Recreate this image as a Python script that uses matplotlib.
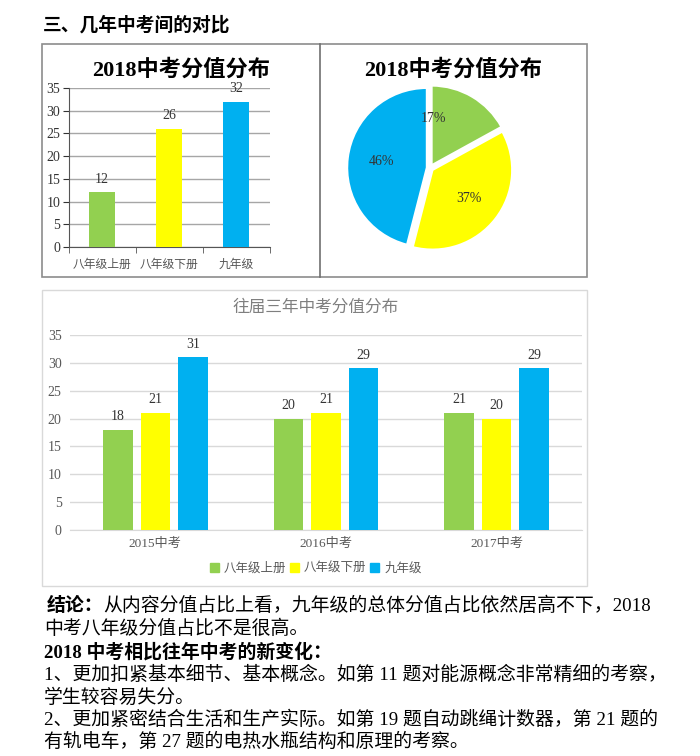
import numpy as np
import matplotlib
matplotlib.use("Agg")
import matplotlib.pyplot as plt
from matplotlib.patches import Rectangle, Patch

plt.rcParams['font.family'] = ['Noto Sans CJK SC', 'DejaVu Sans']
SERIF = ['Liberation Serif', 'Noto Sans CJK SC']

# data
grades = ['八年级上册', '八年级下册', '九年级']
scores_2018 = [12, 26, 32]
pie_pct = [17, 37, 46]
years = ['2015中考', '2016中考', '2017中考']
past = {
    '八年级上册': [18, 20, 21],
    '八年级下册': [21, 21, 20],
    '九年级': [31, 29, 29],
}
colors = ['#92D050', '#FFFF00', '#00B0F0']

W, H = 700, 756
fig = plt.figure(figsize=(7, 7.56), dpi=100)


def rect(x0, y0, x1, y1):
    return [x0 / W, 1 - y1 / H, (x1 - x0) / W, (y1 - y0) / H]


def fx(x):
    return x / W


def fy(y):
    return 1 - y / H


# heading
fig.text(fx(43), fy(25), '三、几年中考间的对比', fontsize=13.5, fontweight='bold', va='center')

# boxes
fig.add_artist(Rectangle((fx(42), fy(277)), (587 - 42) / W, (277 - 44) / H, transform=fig.transFigure,
                         fill=False, ec='#8c8c8c', lw=1.2))
fig.add_artist(plt.Line2D([fx(320), fx(320)], [fy(44), fy(277)], transform=fig.transFigure, color='#6f6f6f', lw=1.2))
fig.add_artist(Rectangle((fx(42), fy(586)), (587 - 42) / W, (586 - 290) / H, transform=fig.transFigure,
                         fill=False, ec='#d9d9d9', lw=1.0))

# top-left bar chart
fig.text(fx(181), fy(70), '2018中考分值分布', fontsize=16, fontweight='bold', family=SERIF, ha='center', va='center')
ax1 = fig.add_axes(rect(68.5, 88, 269.5, 247))
x = np.arange(len(grades))
ax1.bar(x, scores_2018, width=0.4, color=colors, zorder=3)
for xi, v in zip(x, scores_2018):
    ax1.text(xi, v + 1.5, str(v), ha='center', va='bottom', fontsize=10, family=SERIF, color='#333333')
ax1.set_xlim(-0.5, 2.5)
ax1.set_ylim(0, 35)
ax1.set_yticks(range(0, 36, 5))
ax1.yaxis.grid(True, color='#a6a6a6', lw=1.0, zorder=0)
ax1.set_xticks(x)
ax1.set_xticklabels(grades, fontsize=8.5, color='#555555')
ax1.set_xticks([-0.5, 0.5, 1.5, 2.5], minor=True)
ax1.tick_params(axis='x', which='major', length=0, pad=8)
ax1.tick_params(axis='x', which='minor', length=4, color='#555555')
ax1.tick_params(axis='y', labelsize=10, colors='#333333', length=4, pad=2)
for lab in ax1.get_yticklabels():
    lab.set_family(SERIF)
for s in ['top', 'right']:
    ax1.spines[s].set_visible(False)
ax1.spines['left'].set_color('#555555')
ax1.spines['bottom'].set_color('#555555')

# pie
fig.text(fx(453), fy(70), '2018中考分值分布', fontsize=16, fontweight='bold', family=SERIF, ha='center', va='center')
ax2 = fig.add_axes(rect(340, 78, 520, 258))
wedges, texts, autotexts = ax2.pie(pie_pct, colors=colors, startangle=90, counterclock=False,
                                   explode=[0.04, 0.04, 0.04], radius=1.0,
                                   autopct='%d%%', pctdistance=0.58,
                                   wedgeprops=dict(ec='white', lw=1.5),
                                   textprops=dict(fontsize=10, family=SERIF, color='#333333'))
autotexts[0].set_position((0.05, 0.62))
ax2.set_xlim(-1.13, 1.13)
ax2.set_ylim(-1.13, 1.13)
ax2.set_aspect('equal')

# bottom grouped bar chart
fig.text(fx(316), fy(307), '往届三年中考分值分布', fontsize=12, color='#7f7f7f', ha='center', va='center')
ax3 = fig.add_axes(rect(70, 335, 582, 530))
gx = np.arange(len(years))
bw = 0.173
step = 0.22
for i, (name, vals) in enumerate(past.items()):
    pos = gx + (i - 1) * step
    ax3.bar(pos, vals, width=bw, color=colors[i], label=name, zorder=3)
    for p, v in zip(pos, vals):
        ax3.text(p, v + 1.2, str(v), ha='center', va='bottom', fontsize=10, family=SERIF, color='#333333')
ax3.set_xlim(-0.5, 2.5)
ax3.set_ylim(0, 35)
ax3.set_yticks(range(0, 36, 5))
ax3.yaxis.grid(True, color='#d9d9d9', lw=1.0, zorder=0)
ax3.set_xticks(gx)
ax3.set_xticklabels(years, fontsize=9.5, color='#595959')
for lab in ax3.get_xticklabels():
    lab.set_family(SERIF)
ax3.tick_params(axis='x', length=0, pad=6)
ax3.tick_params(axis='y', length=0, labelsize=10, colors='#595959', pad=6)
for lab in ax3.get_yticklabels():
    lab.set_family(SERIF)
for s in ['top', 'right', 'left']:
    ax3.spines[s].set_visible(False)
ax3.spines['bottom'].set_color('#d9d9d9')
handles = [Patch(color=c) for c in colors]
fig.legend(handles, grades, loc='center', bbox_to_anchor=(fx(316), fy(568)), ncol=3, frameon=False,
           fontsize=9, handlelength=0.7, handleheight=0.7, handletextpad=0.4, columnspacing=0.3,
           labelcolor='#595959')

# body text
fs = 13.6
fig.text(fx(47), fy(606), '结论：', fontsize=fs, fontweight='bold', family=SERIF, va='center')
fig.text(fx(103), fy(606), '从内容分值占比上看，九年级的总体分值占比依然居高不下，2018', fontsize=fs, family=SERIF, va='center')
fig.text(fx(44), fy(629), '中考八年级分值占比不是很高。', fontsize=fs, family=SERIF, va='center')
fig.text(fx(44), fy(652), '2018 中考相比往年中考的新变化：', fontsize=fs, fontweight='bold', family=SERIF, va='center')
fig.text(fx(44), fy(675), '1、更加扣紧基本细节、基本概念。如第 11 题对能源概念非常精细的考察，', fontsize=fs, family=SERIF, va='center')
fig.text(fx(44), fy(698), '学生较容易失分。', fontsize=fs, family=SERIF, va='center')
fig.text(fx(44), fy(720), '2、更加紧密结合生活和生产实际。如第 19 题自动跳绳计数器，第 21 题的', fontsize=fs, family=SERIF, va='center')
fig.text(fx(44), fy(742), '有轨电车，第 27 题的电热水瓶结构和原理的考察。', fontsize=fs, family=SERIF, va='center')

fig.savefig('out.png', dpi=100)
